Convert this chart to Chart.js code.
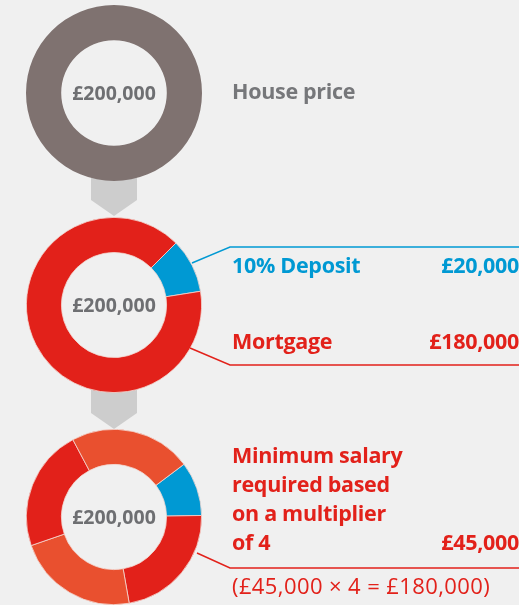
<!DOCTYPE html>
<html>
<head>
<meta charset="utf-8">
<script src="https://cdn.jsdelivr.net/npm/chart.js@4/dist/chart.umd.min.js"></script>
<style>
  html,body{margin:0;padding:0;background:#f0f0f0;width:519px;height:605px;overflow:hidden;font-family:"Open Sans",Lato,sans-serif;}
  #wrap{position:relative;width:519px;height:605px;}
  svg{position:absolute;left:0;top:0;}
  canvas{position:absolute;}
</style>
</head>
<body>
<div id="wrap">
  <svg id="under" width="519" height="605" style="z-index:0"></svg>
  <canvas id="c1" width="176" height="176" style="left:26px;top:5px;z-index:1"></canvas>
  <canvas id="c2" width="176" height="176" style="left:26px;top:217px;z-index:1"></canvas>
  <canvas id="c3" width="176" height="176" style="left:26px;top:429px;z-index:1"></canvas>
  <svg id="over" width="519" height="605" style="z-index:2"></svg>
</div>
<script>
// ---- data ----
const houseLabels = ['House price'];
const houseValues = [200000];
const mortgageLabels = ['10% Deposit', 'Mortgage'];
const mortgageValues = [20000, 180000];
const salaryLabels = ['10% Deposit', 'Salary', 'Salary', 'Salary', 'Salary'];
const salaryValues = [20000, 45000, 45000, 45000, 45000];
const multiplier = 4;

// ---- style ----
const GREY_RING = '#7f7270';
const RED = '#e2211a';
const ORANGE = '#e9502f';
const BLUE = '#0099d3';
const TEXT_GREY = '#76777a';
const CENTER_GREY = '#6e6f72';
const FONT = '"Open Sans"';

const fmt = v => '£' + v.toLocaleString('en-GB');

const centerText = {
  id: 'centerText',
  afterDraw(chart) {
    const {ctx, chartArea} = chart;
    const total = chart.data.datasets[0].data.reduce((a, b) => a + b, 0);
    ctx.save();
    ctx.font = 'bold 19.5px ' + FONT;
    ctx.fillStyle = CENTER_GREY;
    ctx.textAlign = 'center';
    ctx.textBaseline = 'middle';
    ctx.fillText(fmt(total), (chartArea.left + chartArea.right) / 2, (chartArea.top + chartArea.bottom) / 2 + 1);
    ctx.restore();
  }
};

function donut(id, labels, values, colors, rotation, borderWidth) {
  return new Chart(document.getElementById(id), {
    type: 'doughnut',
    data: { labels, datasets: [{ data: values, backgroundColor: colors, borderColor: '#f3d8d2', borderWidth }] },
    options: {
      responsive: false, animation: false, events: [],
      cutout: '60%', rotation,
      layout: { padding: 0 },
      plugins: { legend: { display: false }, tooltip: { enabled: false } }
    },
    plugins: [centerText]
  });
}

donut('c1', houseLabels, houseValues, [GREY_RING], 0, 0);
donut('c2', mortgageLabels, mortgageValues, [BLUE, RED], 45, 0.8);
donut('c3', salaryLabels, salaryValues, [BLUE, RED, ORANGE, RED, ORANGE], 53, 0.8);

// ---- arrows (under) ----
const NS = 'http://www.w3.org/2000/svg';
function el(svg, tag, attrs, text) {
  const e = document.createElementNS(NS, tag);
  for (const k in attrs) e.setAttribute(k, attrs[k]);
  if (text !== undefined) e.textContent = text;
  svg.appendChild(e);
  return e;
}
const under = document.getElementById('under');
el(under, 'path', { d: 'M91 170 L137 170 L137 200 L114 216 L91 200 Z', fill: '#cdcdcd' });
el(under, 'path', { d: 'M91 383 L137 383 L137 413 L114 429 L91 413 Z', fill: '#cdcdcd' });

// ---- callouts and text (over) ----
const over = document.getElementById('over');
el(over, 'polyline', { points: '192,263 230,247 519,247', fill: 'none', stroke: BLUE, 'stroke-width': 1.5 });
el(over, 'polyline', { points: '190,348 230,365 519,365', fill: 'none', stroke: RED, 'stroke-width': 1.5 });
el(over, 'polyline', { points: '197,553 230,568 519,568', fill: 'none', stroke: RED, 'stroke-width': 1.5 });

const bold = { 'font-family': 'Open Sans', 'font-weight': 'bold', 'font-size': 21.5, 'letter-spacing': -0.3 };
el(over, 'text', Object.assign({ x: 232, y: 99, fill: TEXT_GREY }, bold), houseLabels[0]);

el(over, 'text', Object.assign({ x: 232, y: 273, fill: BLUE }, bold), mortgageLabels[0]);
el(over, 'text', Object.assign({ x: 519, y: 273, fill: BLUE, 'text-anchor': 'end' }, bold), fmt(mortgageValues[0]));
el(over, 'text', Object.assign({ x: 232, y: 349, fill: RED }, bold), mortgageLabels[1]);
el(over, 'text', Object.assign({ x: 519, y: 349, fill: RED, 'text-anchor': 'end' }, bold), fmt(mortgageValues[1]));

const salaryLines = ['Minimum salary', 'required based', 'on a multiplier', 'of ' + multiplier];
salaryLines.forEach((t, i) => {
  el(over, 'text', Object.assign({ x: 232, y: 463 + i * 29, fill: RED }, bold), t);
});
const salary = salaryValues[1];
el(over, 'text', Object.assign({ x: 519, y: 550, fill: RED, 'text-anchor': 'end' }, bold), fmt(salary));
el(over, 'text', { x: 232, y: 594, fill: RED, 'font-family': 'Open Sans', 'font-size': 22, 'letter-spacing': 0.4 },
  '(' + fmt(salary) + ' × ' + multiplier + ' = ' + fmt(salary * multiplier) + ')');
</script>
</body>
</html>
